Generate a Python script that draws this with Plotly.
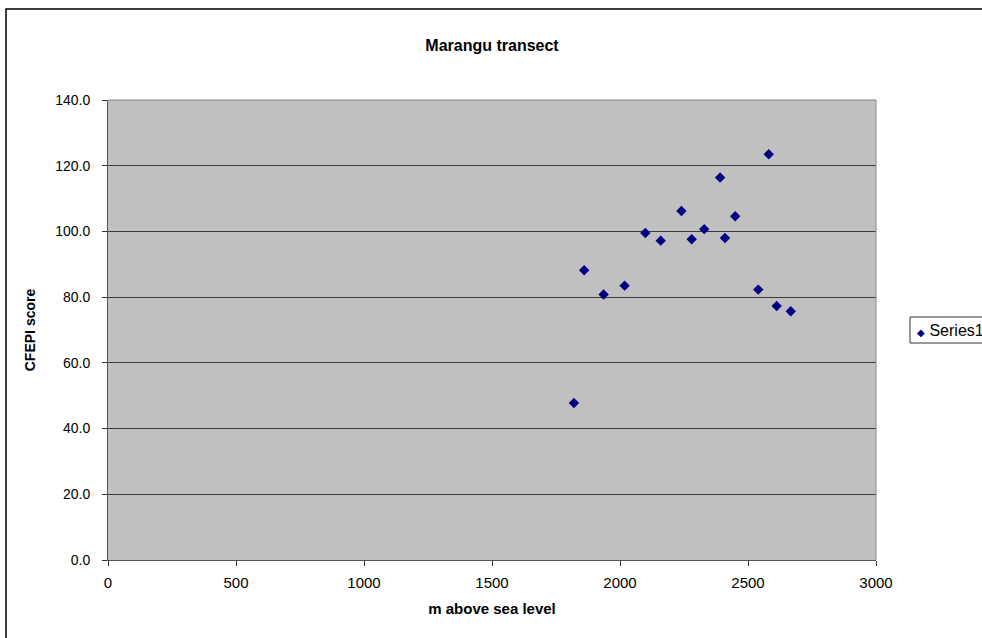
import plotly.graph_objects as go

# Elevation (m above sea level) and CFEPI score along the Marangu transect
elevation = [1820, 1860, 1936, 2018, 2099, 2159, 2240, 2280, 2329, 2391, 2410, 2450, 2540, 2581, 2612, 2667]
cfepi = [47.8, 88.2, 80.8, 83.5, 99.5, 97.2, 106.2, 97.6, 100.7, 116.4, 98.0, 104.6, 82.3, 123.5, 77.3, 75.7]
series_name = "Series1"

x_ticks = [0, 500, 1000, 1500, 2000, 2500, 3000]
y_ticks = [0, 20, 40, 60, 80, 100, 120, 140]

W, H = 982, 638
L, R, T, B = 108, 106, 100, 78
pw, ph = W - L - R, H - T - B

def px_x(p):
    return (p - L) / pw

def px_y(p):
    return (H - B - p) / ph

font = "Liberation Sans, Arial, sans-serif"
navy = "#000080"

fig = go.Figure()
fig.add_trace(go.Scatter(
    x=elevation, y=cfepi, mode="markers", name=series_name,
    marker=dict(symbol="diamond", size=8, color=navy, line=dict(width=0)),
    showlegend=False,
))

fig.update_layout(
    width=W, height=H,
    margin=dict(l=L, r=R, t=T, b=B, pad=0, autoexpand=False),
    paper_bgcolor="white",
    plot_bgcolor="#C0C0C0",
    font=dict(family=font, size=13, color="black"),
    title=dict(text="<b>Marangu transect</b>", x=0.5, xref="paper", xanchor="center",
               y=1 - 45 / H, yanchor="middle", font=dict(size=16, family=font)),
    xaxis=dict(
        range=[0, 3000], tickvals=x_ticks, ticktext=[str(v) for v in x_ticks],
        showgrid=False, zeroline=False, showline=True, linecolor="#555", linewidth=1,
        ticks="outside", ticklen=5, tickcolor="#333", ticklabelstandoff=4,
        tickfont=dict(size=15),
        title=dict(text="<b>m above sea level</b>", font=dict(size=15), standoff=13),
    ),
    yaxis=dict(
        range=[0, 140], tickvals=y_ticks, ticktext=[f"{v:.1f}" for v in y_ticks],
        showgrid=True, gridcolor="#3a3a3a", gridwidth=1, zeroline=False,
        showline=True, linecolor="#555", linewidth=1,
        ticks="outside", ticklen=5, tickcolor="#333", ticklabelstandoff=9,
        tickfont=dict(size=14),
        title=dict(text="<b>CFEPI score</b>", font=dict(size=14), standoff=16),
    ),
    showlegend=False,
    shapes=[
        # gray frame on top/right of plot area
        dict(type="line", xref="paper", yref="paper", x0=0, x1=1, y0=1, y1=1,
             line=dict(color="#888", width=1)),
        dict(type="line", xref="paper", yref="paper", x0=1, x1=1, y0=0, y1=1,
             line=dict(color="#888", width=1)),
        # legend box
        dict(type="rect", xref="paper", yref="paper",
             x0=px_x(910), x1=px_x(W + 30), y0=px_y(317), y1=px_y(343),
             fillcolor="white", line=dict(color="#333", width=1)),
        # outer chart border
        dict(type="rect", xref="paper", yref="paper",
             x0=px_x(6), x1=px_x(W + 20), y0=px_y(9), y1=px_y(H + 20),
             line=dict(color="black", width=1.5), layer="above"),
    ],
    annotations=[
        dict(xref="paper", yref="paper", x=px_x(915), y=px_y(330),
             xanchor="left", yanchor="middle", showarrow=False,
             text=f"<span style='color:{navy};font-size:10px'>◆</span> {series_name}",
             font=dict(size=16, family=font, color="black")),
    ],
)

fig.write_html("out.html")
